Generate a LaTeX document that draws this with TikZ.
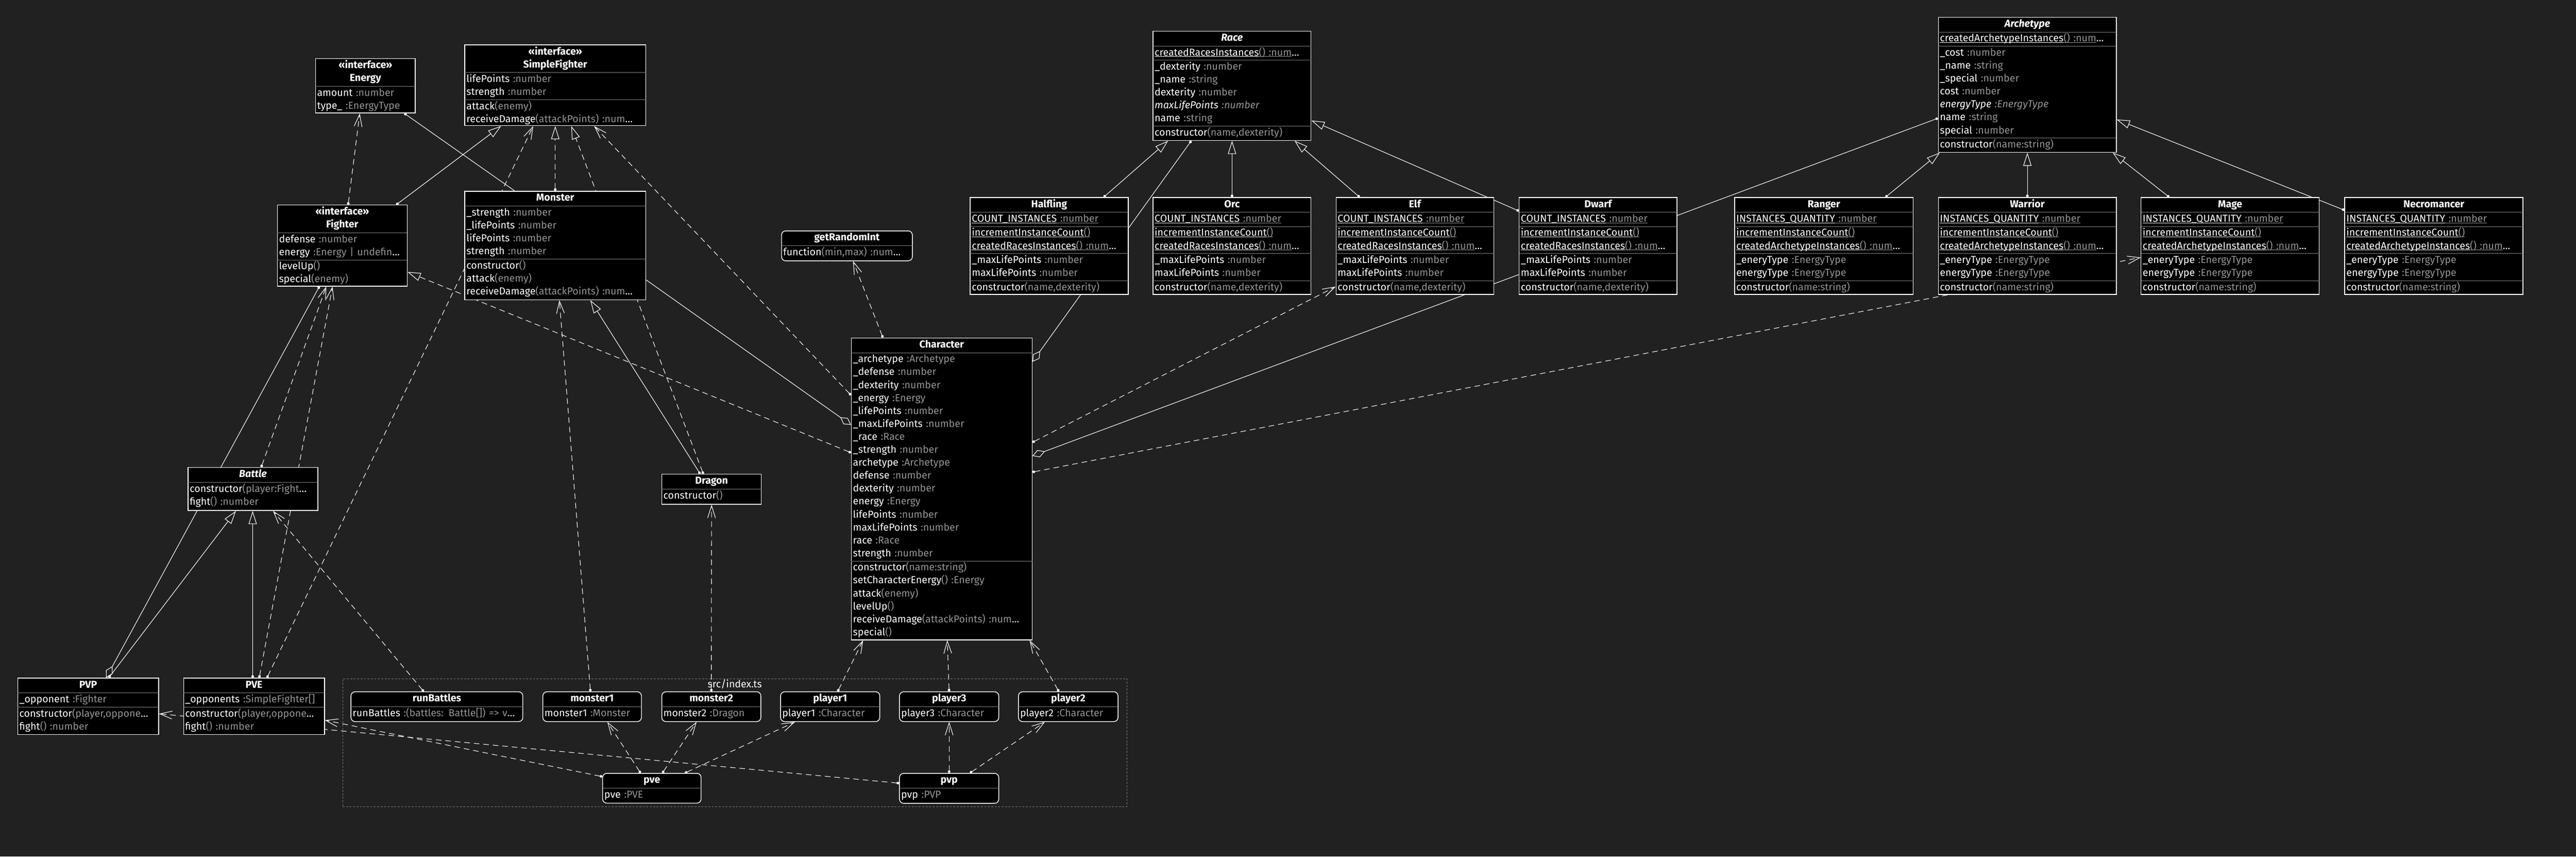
\documentclass[tikz,border=0pt]{standalone}
\usepackage{fontspec}
\setmainfont{Fira Sans}
\usetikzlibrary{positioning,arrows.meta}
\definecolor{bgdark}{HTML}{212121}
\definecolor{tygrey}{HTML}{959595}
\definecolor{sepgrey}{HTML}{7F7F7F}
\newcommand{\ty}[1]{\textcolor{tygrey}{#1}}
\newcommand{\ul}[1]{\leavevmode\setbox0\hbox{#1}\rlap{\rule[-0.7mm]{\wd0}{0.35mm}}\box0}
\newcommand{\stereo}{«interface»}
\pgfdeclarelayer{back}
\pgfdeclarelayer{wires}
\pgfsetlayers{back,wires,main}
\begin{document}
\begin{tikzpicture}[x=1mm,y=-1mm,
  every node/.style={text=white,font=\fontsize{17.5}{22.4}\selectfont,execute at begin node=\strut,execute at end node=\strut},
  umlbox/.style={draw=white,fill=black,line width=0.45mm,anchor=north west,inner sep=0pt},
  objbox/.style={umlbox,rounded corners=2.5mm},
  filebox/.style={draw=sepgrey,dash pattern=on 1.2mm off 0.9mm,line width=0.3mm,anchor=north west,inner sep=0pt},
  head/.style={anchor=north,align=center,text width=#1,inner xsep=1mm,inner ysep=0.6mm,font=\fontsize{17.5}{22.4}\selectfont\bfseries},
  part/.style={align=left,text width=#1,inner xsep=1mm,inner ysep=0.3mm,append after command={(\tikzlastnode.north west) edge[sepline] (\tikzlastnode.north east)}},
  sepline/.style={draw=sepgrey,line width=0.3mm},
  wire/.style={draw=white,line width=0.35mm},
  dep/.style={wire,dash pattern=on 3.4mm off 2.4mm,arrows={Circle[length=1.6mm]-Straight Barb[length=7.5mm,width=4.8mm]}},
  real/.style={wire,dash pattern=on 3.4mm off 2.4mm,arrows={Circle[length=1.6mm]-Triangle[open,length=8mm,width=5mm]}},
  inh/.style={wire,arrows={Circle[length=1.6mm]-Triangle[open,length=8mm,width=5mm]}},
  aggr/.style={wire,arrows={Circle[length=1.6mm]-Diamond[open,length=8mm,width=4.6mm]}},
  has/.style={wire,arrows={-Diamond[open,length=8mm,width=4.6mm]}},
  link/.style={wire,arrows={-Circle[length=1.6mm]}}]
\useasboundingbox (0,0) rectangle (1568,520.97);
\begin{pgfonlayer}{back}
\fill[bgdark] (0,0) rectangle (1568,520.97);
\end{pgfonlayer}

\node[filebox,minimum width=477.4mm,minimum height=77.9mm] (index) at (208.4,412.6) {};
\node[anchor=north,inner sep=0pt] (index-l) at (index.north) {src/index.ts};

\node[umlbox,minimum width=60.8mm,minimum height=33.1mm] (energy) at (191.8,35.4) {};
\node[head=58.8mm] (energy-h) at (energy.north) {\stereo\\Energy};
\node[part=58.8mm,below=0pt of energy-h] (energy-a) {amount \ty{:number}\\type\_ \ty{:EnergyType}};

\node[umlbox,minimum width=110.1mm,minimum height=49.1mm] (sfighter) at (282.7,27.1) {};
\node[head=108.1mm] (sfighter-h) at (sfighter.north) {\stereo\\SimpleFighter};
\node[part=108.1mm,below=0pt of sfighter-h] (sfighter-a) {lifePoints \ty{:number}\\strength \ty{:number}};
\node[part=108.1mm,below=0pt of sfighter-a] (sfighter-m) {attack\ty{(enemy)}\\receiveDamage\ty{(attackPoints) :num}…};

\node[umlbox,minimum width=79mm,minimum height=49.3mm] (fighter) at (168.6,124.5) {};
\node[head=77mm] (fighter-h) at (fighter.north) {\stereo\\Fighter};
\node[part=77mm,below=0pt of fighter-h] (fighter-a) {defense \ty{:number}\\energy \ty{:Energy | undefin}…};
\node[part=77mm,below=0pt of fighter-a] (fighter-m) {levelUp\ty{()}\\special\ty{(enemy)}};

\node[umlbox,minimum width=110.1mm,minimum height=66mm] (monster) at (282.7,116.1) {};
\node[head=108.1mm] (monster-h) at (monster.north) {Monster};
\node[part=108.1mm,below=0pt of monster-h] (monster-a) {\_strength \ty{:number}\\\_lifePoints \ty{:number}\\lifePoints \ty{:number}\\strength \ty{:number}};
\node[part=108.1mm,below=0pt of monster-a] (monster-m) {constructor\ty{()}\\attack\ty{(enemy)}\\receiveDamage\ty{(attackPoints) :num}…};

\node[objbox,minimum width=79.6mm,minimum height=18.2mm] (rand) at (475.5,140.2) {};
\node[head=77.6mm] (rand-h) at (rand.north) {getRandomInt};
\node[part=77.6mm,below=0pt of rand-h] (rand-a) {function\ty{(min,max) :num}…};

\node[umlbox,minimum width=110mm,minimum height=183.6mm] (char) at (518,205.3) {};
\node[head=108mm] (char-h) at (char.north) {Character};
\node[part=108mm,below=0pt of char-h] (char-a) {\_archetype \ty{:Archetype}\\\_defense \ty{:number}\\\_dexterity \ty{:number}\\\_energy \ty{:Energy}\\\_lifePoints \ty{:number}\\\_maxLifePoints \ty{:number}\\\_race \ty{:Race}\\\_strength \ty{:number}\\archetype \ty{:Archetype}\\defense \ty{:number}\\dexterity \ty{:number}\\energy \ty{:Energy}\\lifePoints \ty{:number}\\maxLifePoints \ty{:number}\\race \ty{:Race}\\strength \ty{:number}};
\node[part=108mm,below=0pt of char-a] (char-m) {constructor\ty{(name:string)}\\setCharacterEnergy\ty{() :Energy}\\attack\ty{(enemy)}\\levelUp\ty{()}\\receiveDamage\ty{(attackPoints) :num}…\\special\ty{()}};

\node[umlbox,minimum width=96.2mm,minimum height=66.4mm] (race) at (701.6,18.8) {};
\node[head=94.2mm] (race-h) at (race.north) {\textit{Race}};
\node[part=94.2mm,below=0pt of race-h] (race-s) {\ul{createdRacesInstances}\ty{\ul{() :num}}…};
\node[part=94.2mm,below=0pt of race-s] (race-a) {\_dexterity \ty{:number}\\\_name \ty{:string}\\dexterity \ty{:number}\\\textit{maxLifePoints \ty{:number}}\\name \ty{:string}};
\node[part=94.2mm,below=0pt of race-a] (race-m) {constructor\ty{(name,dexterity)}};

\node[umlbox,minimum width=96.2mm,minimum height=58.9mm] (halfling) at (590.3,119.9) {};
\node[head=94.2mm] (halfling-h) at (halfling.north) {Halfling};
\node[part=94.2mm,below=0pt of halfling-h] (halfling-s) {\ul{COUNT\_INSTANCES}\ty{\ul{ :number}}};
\node[part=94.2mm,below=0pt of halfling-s] (halfling-t) {\ul{incrementInstanceCount}\ty{\ul{()}}\\\ul{createdRacesInstances}\ty{\ul{() :num}}…};
\node[part=94.2mm,below=0pt of halfling-t] (halfling-a) {\_maxLifePoints \ty{:number}\\maxLifePoints \ty{:number}};
\node[part=94.2mm,below=0pt of halfling-a] (halfling-m) {constructor\ty{(name,dexterity)}};

\node[umlbox,minimum width=96.2mm,minimum height=58.9mm] (orc) at (701.6,119.9) {};
\node[head=94.2mm] (orc-h) at (orc.north) {Orc};
\node[part=94.2mm,below=0pt of orc-h] (orc-s) {\ul{COUNT\_INSTANCES}\ty{\ul{ :number}}};
\node[part=94.2mm,below=0pt of orc-s] (orc-t) {\ul{incrementInstanceCount}\ty{\ul{()}}\\\ul{createdRacesInstances}\ty{\ul{() :num}}…};
\node[part=94.2mm,below=0pt of orc-t] (orc-a) {\_maxLifePoints \ty{:number}\\maxLifePoints \ty{:number}};
\node[part=94.2mm,below=0pt of orc-a] (orc-m) {constructor\ty{(name,dexterity)}};

\node[umlbox,minimum width=96mm,minimum height=58.9mm] (elf) at (813,119.9) {};
\node[head=94mm] (elf-h) at (elf.north) {Elf};
\node[part=94mm,below=0pt of elf-h] (elf-s) {\ul{COUNT\_INSTANCES}\ty{\ul{ :number}}};
\node[part=94mm,below=0pt of elf-s] (elf-t) {\ul{incrementInstanceCount}\ty{\ul{()}}\\\ul{createdRacesInstances}\ty{\ul{() :num}}…};
\node[part=94mm,below=0pt of elf-t] (elf-a) {\_maxLifePoints \ty{:number}\\maxLifePoints \ty{:number}};
\node[part=94mm,below=0pt of elf-a] (elf-m) {constructor\ty{(name,dexterity)}};

\node[umlbox,minimum width=96mm,minimum height=58.9mm] (dwarf) at (924.5,119.9) {};
\node[head=94mm] (dwarf-h) at (dwarf.north) {Dwarf};
\node[part=94mm,below=0pt of dwarf-h] (dwarf-s) {\ul{COUNT\_INSTANCES}\ty{\ul{ :number}}};
\node[part=94mm,below=0pt of dwarf-s] (dwarf-t) {\ul{incrementInstanceCount}\ty{\ul{()}}\\\ul{createdRacesInstances}\ty{\ul{() :num}}…};
\node[part=94mm,below=0pt of dwarf-t] (dwarf-a) {\_maxLifePoints \ty{:number}\\maxLifePoints \ty{:number}};
\node[part=94mm,below=0pt of dwarf-a] (dwarf-m) {constructor\ty{(name,dexterity)}};

\node[umlbox,minimum width=108.4mm,minimum height=82.1mm] (arch) at (1179.6,10.3) {};
\node[head=106.4mm] (arch-h) at (arch.north) {\textit{Archetype}};
\node[part=106.4mm,below=0pt of arch-h] (arch-s) {\ul{createdArchetypeInstances}\ty{\ul{() :num}}…};
\node[part=106.4mm,below=0pt of arch-s] (arch-a) {\_cost \ty{:number}\\\_name \ty{:string}\\\_special \ty{:number}\\cost \ty{:number}\\\textit{energyType \ty{:EnergyType}}\\name \ty{:string}\\special \ty{:number}};
\node[part=106.4mm,below=0pt of arch-a] (arch-m) {constructor\ty{(name:string)}};

\node[umlbox,minimum width=108.7mm,minimum height=59mm] (ranger) at (1055.6,119.9) {};
\node[head=106.7mm] (ranger-h) at (ranger.north) {Ranger};
\node[part=106.7mm,below=0pt of ranger-h] (ranger-s) {\ul{INSTANCES\_QUANTITY}\ty{\ul{ :number}}};
\node[part=106.7mm,below=0pt of ranger-s] (ranger-t) {\ul{incrementInstanceCount}\ty{\ul{()}}\\\ul{createdArchetypeInstances}\ty{\ul{() :num}}…};
\node[part=106.7mm,below=0pt of ranger-t] (ranger-a) {\_eneryType \ty{:EnergyType}\\energyType \ty{:EnergyType}};
\node[part=106.7mm,below=0pt of ranger-a] (ranger-m) {constructor\ty{(name:string)}};

\node[umlbox,minimum width=108.4mm,minimum height=59mm] (warrior) at (1179.6,119.9) {};
\node[head=106.4mm] (warrior-h) at (warrior.north) {Warrior};
\node[part=106.4mm,below=0pt of warrior-h] (warrior-s) {\ul{INSTANCES\_QUANTITY}\ty{\ul{ :number}}};
\node[part=106.4mm,below=0pt of warrior-s] (warrior-t) {\ul{incrementInstanceCount}\ty{\ul{()}}\\\ul{createdArchetypeInstances}\ty{\ul{() :num}}…};
\node[part=106.4mm,below=0pt of warrior-t] (warrior-a) {\_eneryType \ty{:EnergyType}\\energyType \ty{:EnergyType}};
\node[part=106.4mm,below=0pt of warrior-a] (warrior-m) {constructor\ty{(name:string)}};

\node[umlbox,minimum width=108.5mm,minimum height=59mm] (mage) at (1303,119.9) {};
\node[head=106.5mm] (mage-h) at (mage.north) {Mage};
\node[part=106.5mm,below=0pt of mage-h] (mage-s) {\ul{INSTANCES\_QUANTITY}\ty{\ul{ :number}}};
\node[part=106.5mm,below=0pt of mage-s] (mage-t) {\ul{incrementInstanceCount}\ty{\ul{()}}\\\ul{createdArchetypeInstances}\ty{\ul{() :num}}…};
\node[part=106.5mm,below=0pt of mage-t] (mage-a) {\_eneryType \ty{:EnergyType}\\energyType \ty{:EnergyType}};
\node[part=106.5mm,below=0pt of mage-a] (mage-m) {constructor\ty{(name:string)}};

\node[umlbox,minimum width=108.5mm,minimum height=59mm] (necro) at (1427,119.9) {};
\node[head=106.5mm] (necro-h) at (necro.north) {Necromancer};
\node[part=106.5mm,below=0pt of necro-h] (necro-s) {\ul{INSTANCES\_QUANTITY}\ty{\ul{ :number}}};
\node[part=106.5mm,below=0pt of necro-s] (necro-t) {\ul{incrementInstanceCount}\ty{\ul{()}}\\\ul{createdArchetypeInstances}\ty{\ul{() :num}}…};
\node[part=106.5mm,below=0pt of necro-t] (necro-a) {\_eneryType \ty{:EnergyType}\\energyType \ty{:EnergyType}};
\node[part=106.5mm,below=0pt of necro-a] (necro-m) {constructor\ty{(name:string)}};

\node[umlbox,minimum width=78.9mm,minimum height=26.2mm] (battle) at (114.3,284.1) {};
\node[head=76.9mm] (battle-h) at (battle.north) {\textit{Battle}};
\node[part=76.9mm,below=0pt of battle-h] (battle-m) {constructor\ty{(player:Fight}…\\fight\ty{() :number}};

\node[umlbox,minimum width=60.6mm,minimum height=18.3mm] (dragon) at (402.6,288.2) {};
\node[head=58.6mm] (dragon-h) at (dragon.north) {Dragon};
\node[part=58.6mm,below=0pt of dragon-h] (dragon-m) {constructor\ty{()}};

\node[umlbox,minimum width=85.7mm,minimum height=34.3mm] (pvp) at (10.6,412.2) {};
\node[head=83.7mm] (pvp-h) at (pvp.north) {PVP};
\node[part=83.7mm,below=0pt of pvp-h] (pvp-a) {\_opponent \ty{:Fighter}};
\node[part=83.7mm,below=0pt of pvp-a] (pvp-m) {constructor\ty{(player,oppone}…\\fight\ty{() :number}};

\node[umlbox,minimum width=85.8mm,minimum height=34.3mm] (pve) at (111.5,412.2) {};
\node[head=83.8mm] (pve-h) at (pve.north) {PVE};
\node[part=83.8mm,below=0pt of pve-h] (pve-a) {\_opponents \ty{:SimpleFighter[]}};
\node[part=83.8mm,below=0pt of pve-a] (pve-m) {constructor\ty{(player,oppone}…\\fight\ty{() :number}};

\node[objbox,minimum width=104.6mm,minimum height=18.1mm] (runb) at (213.4,420.5) {};
\node[head=102.6mm] (runb-h) at (runb.north) {runBattles};
\node[part=102.6mm,below=0pt of runb-h] (runb-a) {runBattles \ty{:(battles: Battle[]) => v}…};

\node[objbox,minimum width=60mm,minimum height=18.1mm] (mon1) at (330.2,420.5) {};
\node[head=58mm] (mon1-h) at (mon1.north) {monster1};
\node[part=58mm,below=0pt of mon1-h] (mon1-a) {monster1 \ty{:Monster}};

\node[objbox,minimum width=60.3mm,minimum height=18.1mm] (mon2) at (402.6,420.5) {};
\node[head=58.3mm] (mon2-h) at (mon2.north) {monster2};
\node[part=58.3mm,below=0pt of mon2-h] (mon2-a) {monster2 \ty{:Dragon}};

\node[objbox,minimum width=60.4mm,minimum height=18.1mm] (pl1) at (474.9,420.5) {};
\node[head=58.4mm] (pl1-h) at (pl1.north) {player1};
\node[part=58.4mm,below=0pt of pl1-h] (pl1-a) {player1 \ty{:Character}};

\node[objbox,minimum width=60.4mm,minimum height=18.1mm] (pl3) at (547.3,420.5) {};
\node[head=58.4mm] (pl3-h) at (pl3.north) {player3};
\node[part=58.4mm,below=0pt of pl3-h] (pl3-a) {player3 \ty{:Character}};

\node[objbox,minimum width=60.6mm,minimum height=18.1mm] (pl2) at (619.7,420.5) {};
\node[head=58.6mm] (pl2-h) at (pl2.north) {player2};
\node[part=58.6mm,below=0pt of pl2-h] (pl2-a) {player2 \ty{:Character}};

\node[objbox,minimum width=59.9mm,minimum height=18.1mm] (pveo) at (366.6,470.1) {};
\node[head=57.9mm] (pveo-h) at (pveo.north) {pve};
\node[part=57.9mm,below=0pt of pveo-h] (pveo-a) {pve \ty{:PVE}};

\node[objbox,minimum width=60.4mm,minimum height=18.2mm] (pvpo) at (547.3,470.1) {};
\node[head=58.4mm] (pvpo-h) at (pvpo.north) {pvp};
\node[part=58.4mm,below=0pt of pvpo-h] (pvpo-a) {pvp \ty{:PVP}};

\begin{pgfonlayer}{wires}
\draw[dep] ([xshift=43.3mm]fighter.north west) -- ([xshift=27.2mm]energy.south west);
\draw[link] ([xshift=30.6mm]monster.north west) -- ([xshift=54.3mm]energy.south west);
\draw[inh] ([xshift=72.6mm]fighter.north west) -- ([xshift=22.3mm]sfighter.south west);
\draw[real] (monster.north) -- (sfighter.south);
\draw[dep] ([xshift=51mm]pve.north west) -- ([xshift=41.9mm]sfighter.south west);
\draw[real] ([xshift=25.5mm]dragon.north west) -- ([xshift=65mm]sfighter.south west);
\draw[dep] ([yshift=-35mm]char.north west) -- ([xshift=78.9mm]sfighter.south west);
\draw[has] ([yshift=-54.1mm]monster.north east) -- ([yshift=-53.1mm]char.north west);
\draw[real] ([yshift=-70mm]char.north west) -- ([yshift=-40.9mm]fighter.north east);
\draw[aggr] ([xshift=23.5mm]race.south west) -- ([yshift=-14.7mm]char.north east);
\draw[aggr] ([yshift=-61.6mm]arch.north west) -- ([yshift=-72mm]char.north east);
\draw[dep] ([yshift=-63.7mm]char.north east) -- ([yshift=-54.4mm]elf.north west);
\draw[dep] ([yshift=-81.8mm]char.north east) -- ([yshift=-36.7mm]mage.north west);
\draw[dep] ([xshift=19.4mm]char.north west) -- ([xshift=43.8mm]rand.south west);
\draw[inh] ([xshift=81.5mm]halfling.north west) -- ([xshift=9.4mm]race.south west);
\draw[inh] (orc.north) -- (race.south);
\draw[inh] ([xshift=14.6mm]elf.north west) -- ([xshift=86.4mm]race.south west);
\draw[inh] ([yshift=-8.4mm]dwarf.north west) -- ([yshift=-54.5mm]race.north east);
\draw[inh] ([xshift=92.1mm]ranger.north west) -- ([xshift=1.1mm]arch.south west);
\draw[inh] (warrior.north) -- (arch.south);
\draw[inh] ([xshift=17.4mm]mage.north west) -- ([xshift=106.4mm]arch.south west);
\draw[inh] ([yshift=-7.9mm]necro.north west) -- ([yshift=-62.4mm]arch.north east);
\draw[dep] ([xshift=44.7mm]battle.north west) -- ([xshift=30mm]fighter.south west);
\draw[aggr] ([xshift=25.8mm]fighter.south west) -- ([xshift=54mm]pvp.north west);
\draw[inh] ([xshift=55.6mm]pvp.north west) -- ([xshift=29.3mm]battle.south west);
\draw[inh] ([xshift=42.3mm]pve.north west) -- ([xshift=39.5mm]battle.south west);
\draw[dep] ([xshift=46.3mm]pve.north west) -- ([xshift=33.8mm]fighter.south west);
\draw[dep] ([xshift=44.5mm]runb.north west) -- ([xshift=51.9mm]battle.south west);
\draw[dep] ([xshift=29.2mm]mon1.north west) -- ([xshift=57.8mm]monster.south west);
\draw[inh] ([xshift=23.6mm]dragon.north west) -- ([xshift=76.6mm]monster.south west);
\draw[dep] (mon2.north) -- (dragon.south);
\draw[dep] ([yshift=-2.2mm]pveo.north west) -- ([yshift=-25.8mm]pve.north east);
\draw[dep] ([yshift=-6.2mm]pvpo.north west) -- ([yshift=-21.9mm]pvp.north east);
\draw[dep] ([xshift=23.3mm]pveo.north west) -- ([xshift=39.5mm]mon1.south west);
\draw[dep] ([xshift=36.6mm]pveo.north west) -- ([xshift=21.4mm]mon2.south west);
\draw[dep] ([xshift=50.3mm]pveo.north west) -- ([xshift=9mm]pl1.south west);
\draw[dep] (pvpo.north) -- (pl3.south);
\draw[dep] ([xshift=43.1mm]pvpo.north west) -- ([xshift=16.3mm]pl2.south west);
\draw[dep] ([xshift=35mm]pl1.north west) -- ([xshift=7.4mm]char.south west);
\draw[dep] (pl3.north) -- ([xshift=58.6mm]char.south west);
\draw[dep] ([xshift=24.8mm]pl2.north west) -- ([xshift=108.7mm]char.south west);
\end{pgfonlayer}
\end{tikzpicture}
\end{document}
